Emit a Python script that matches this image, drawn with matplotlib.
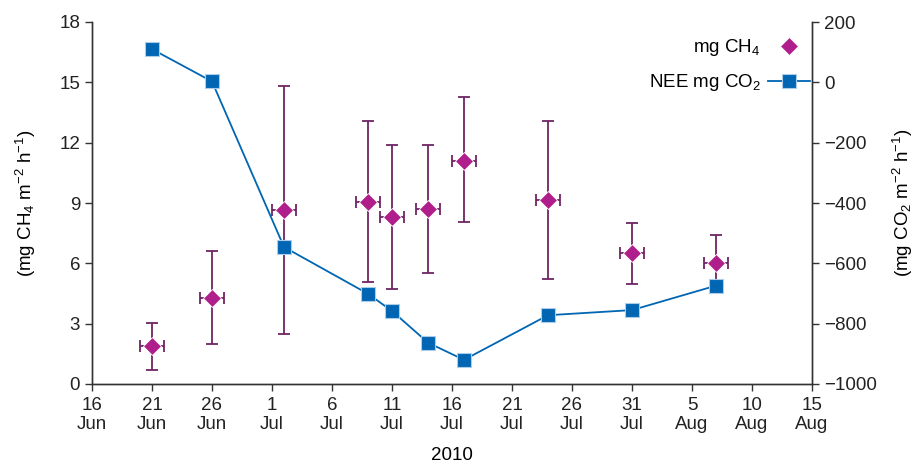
import matplotlib
matplotlib.use("Agg")
import matplotlib.pyplot as plt
import matplotlib.dates as mdates
from matplotlib.lines import Line2D
import numpy as np

plt.rcParams['font.family'] = ['Liberation Sans', 'DejaVu Sans']
plt.rcParams['mathtext.default'] = 'regular'
plt.rcParams['font.size'] = 13.5

dates = ['2010-06-21', '2010-06-26', '2010-07-02', '2010-07-09', '2010-07-11',
         '2010-07-14', '2010-07-17', '2010-07-24', '2010-07-31', '2010-08-07']
ch4 = [1.9, 4.3, 8.65, 9.05, 8.3, 8.7, 11.1, 9.15, 6.5, 6.0]
ch4_upper = [3.05, 6.6, 14.8, 13.1, 11.9, 11.9, 14.25, 13.07, 8.0, 7.4]
ch4_lower = [0.7, 2.0, 2.5, 5.05, 4.7, 5.5, 8.05, 5.2, 4.95, 4.65]
nee_co2 = [110, 3, -546, -701, -758, -863, -920, -772, -755, -674]
date_xerr_days = 1

x = mdates.date2num(np.array(dates, dtype='datetime64[D]'))
ch4 = np.array(ch4)
yerr = [ch4 - np.array(ch4_lower), np.array(ch4_upper) - ch4]

fig = plt.figure(figsize=(9.13, 4.74), dpi=100)
ax = fig.add_axes([92/913, 1-384/474, 720/913, 362/474])
ax2 = ax.twinx()

diam_col = '#B01E8C'
err_col = '#6E2463'
blue = '#0066B3'
dms = 8.8

ax.errorbar(x, ch4, yerr=yerr, xerr=date_xerr_days, fmt='none', ecolor=err_col,
            elinewidth=1.3, capsize=4, capthick=1.3, zorder=2)
ax.plot(x, ch4, linestyle='none', marker='D', ms=dms, color=diam_col,
        mec='white', mew=0.6, zorder=3)

ax2.plot(x, nee_co2, '-', color=blue, lw=1.3, marker='s', ms=9.5,
         mfc=blue, mec='#a9cdea', mew=0.8, zorder=3)

start = mdates.date2num(np.datetime64('2010-06-16'))
end = mdates.date2num(np.datetime64('2010-08-15'))
ax.set_xlim(start, end)
ticks = np.arange(start, end + 1, 5)
ax.set_xticks(ticks)
ax.set_xticklabels([f"{mdates.num2date(t).day}\n{mdates.num2date(t):%b}" for t in ticks])

ax.set_ylim(0, 18)
ax.set_yticks(np.arange(0, 19, 3))
ax2.set_ylim(-1000, 200)
ax2.set_yticks(np.arange(-1000, 201, 200))

for a in (ax, ax2):
    a.spines['top'].set_visible(False)
    for s in a.spines.values():
        s.set_linewidth(1.0)
        s.set_color('#333333')
    a.tick_params(direction='out', length=5, width=1.0, color='#333333', labelcolor='#222222')
ax.tick_params(axis='x', pad=4)

ax.set_ylabel('(mg CH$_4$ m$^{-2}$ h$^{-1}$)', labelpad=15)
ax2.set_ylabel('(mg CO$_2$ m$^{-2}$ h$^{-1}$)', labelpad=10)
ax.set_xlabel('2010', labelpad=10)

handles = [Line2D([], [], linestyle='none', marker='D', ms=dms, color=diam_col, mec='white', mew=0.6),
           Line2D([], [], color=blue, lw=1.3, marker='s', ms=9.5, mfc=blue, mec='#a9cdea', mew=0.8)]
ax2.legend(handles, ['mg CH$_4$', 'NEE mg CO$_2$'], loc='upper right', markerfirst=False,
           frameon=False, handlelength=2.2, handletextpad=0.4, labelspacing=0.75,
           bbox_to_anchor=(1.02, 1.005))

fig.savefig('out.png', dpi=100)
